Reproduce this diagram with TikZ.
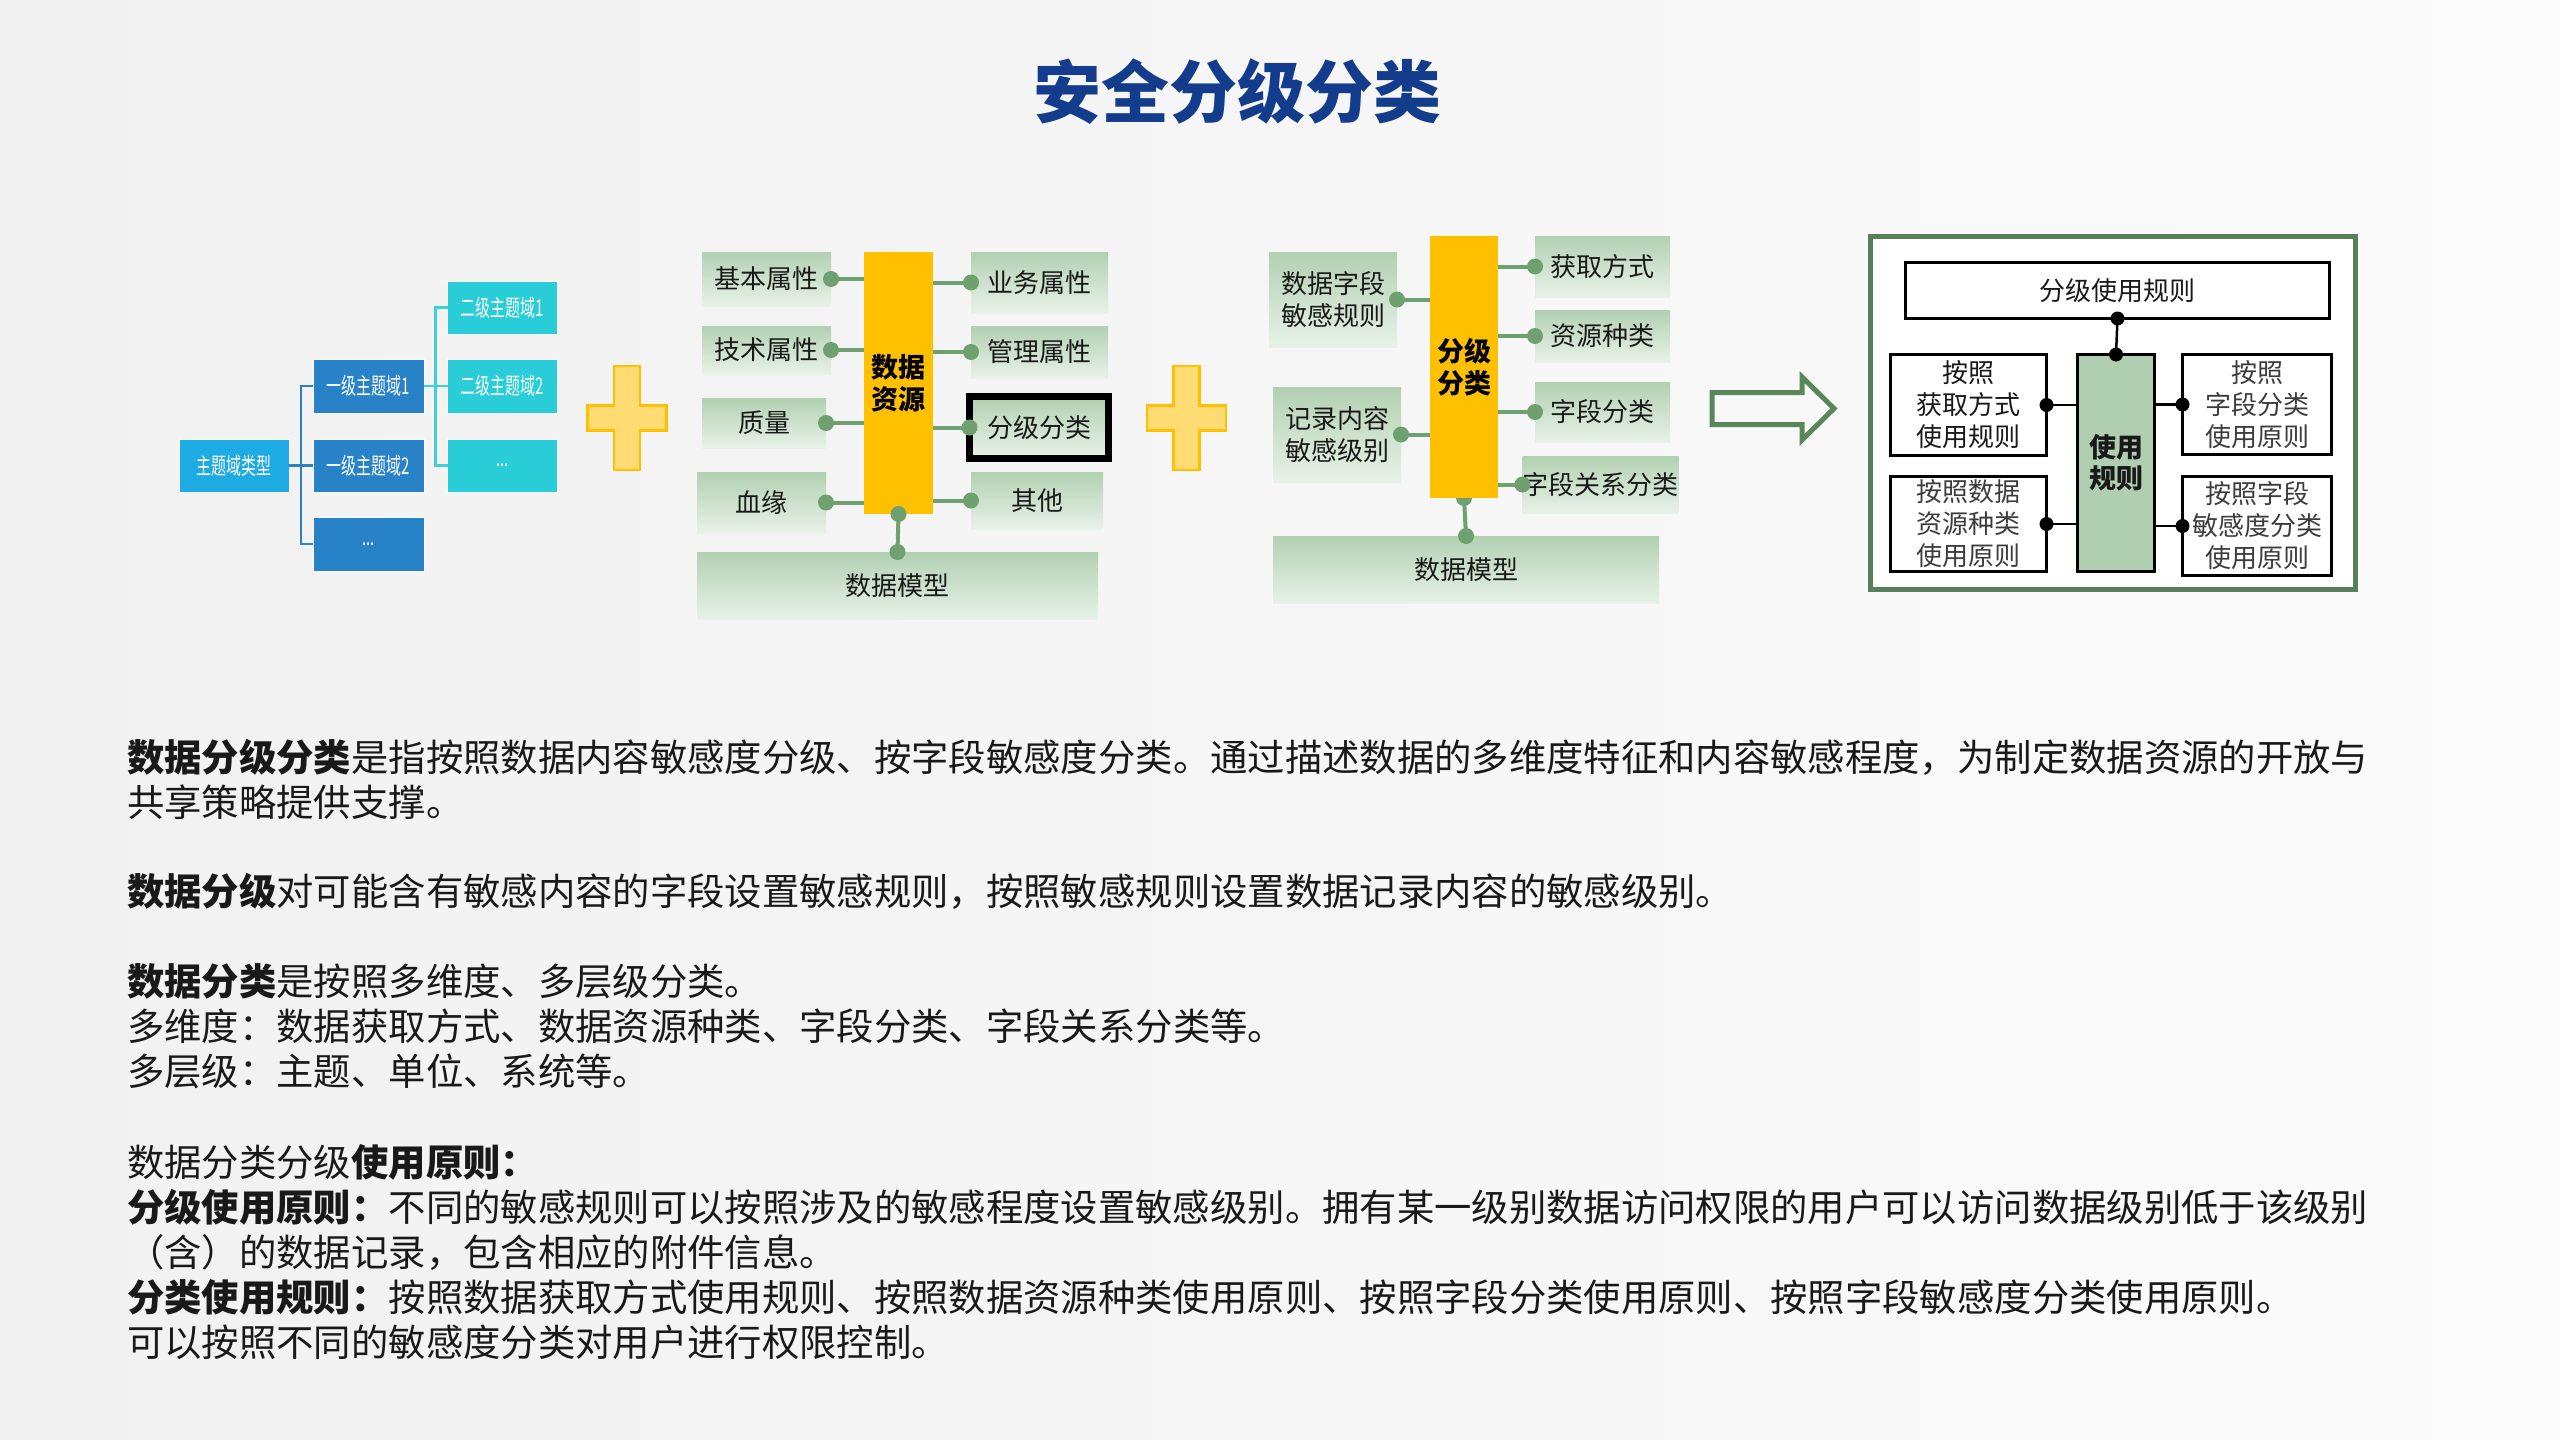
\documentclass[tikz,border=0pt]{standalone}
\usepackage{fontspec}
\usepackage{graphicx}
\setmainfont{Noto Sans CJK SC}
\definecolor{bgl}{RGB}{241,241,241}
\definecolor{bgr}{RGB}{251,251,251}
\definecolor{titleblue}{RGB}{19,61,140}
\definecolor{czero}{RGB}{30,170,226}
\definecolor{cone}{RGB}{40,130,200}
\definecolor{ctwo}{RGB}{40,205,215}
\definecolor{lineone}{RGB}{47,128,195}
\definecolor{linetwo}{RGB}{64,208,216}
\definecolor{plusfill}{RGB}{255,220,115}
\definecolor{plusedge}{RGB}{255,192,0}
\definecolor{ybar}{RGB}{255,192,0}
\definecolor{gtop}{RGB}{178,208,178}
\definecolor{gbot}{RGB}{232,242,232}
\definecolor{gcon}{RGB}{111,160,111}
\definecolor{arrowc}{RGB}{90,135,90}
\definecolor{boxg}{RGB}{88,128,88}
\definecolor{ucfill}{RGB}{176,206,176}
\definecolor{txt}{RGB}{25,25,25}
\definecolor{gtxt}{RGB}{60,60,60}
\newcommand\cnd[1]{\scalebox{0.65}[1]{#1}}
\newcommand\gdotat[1]{\fill[gcon] (#1) circle[radius=8pt];}
\newcommand\bdotat[1]{\fill[black] (#1) circle[radius=7pt];}
\begin{document}
\begin{tikzpicture}[x=1pt,y=-1pt,
  tbox/.style={draw=white, line width=0.8pt, text=white, inner sep=0pt, outer sep=0pt, font=\fontsize{23}{28}\selectfont},
  gbox/.style={top color=gtop, bottom color=gbot, draw=none, inner sep=0pt, outer sep=0pt, text=txt, font=\fontsize{26}{32}\selectfont, align=center},
  ybox/.style={fill=ybar, inner sep=0pt, outer sep=0pt, text=black, font=\bfseries\fontsize{27}{32}\selectfont, align=center},
  gline/.style={draw=gcon, line width=4pt},
  tlone/.style={draw=lineone, line width=2.7pt},
  tltwo/.style={draw=linetwo, line width=2.7pt},
  wbox/.style={draw=black, line width=2.5pt, fill=white, inner sep=0pt, outer sep=0pt, text=txt, font=\fontsize{26}{32}\selectfont, align=center},
  bline/.style={draw=black, line width=2.5pt},
  plusst/.style={fill=plusfill, draw=plusedge, line width=2.5pt},
  bodytext/.style={anchor=west, inner sep=0pt, text=txt, font=\fontsize{37.35}{44}\selectfont}
]
% background
\shade[left color=bgl, right color=bgr] (0,0) rectangle (2560,1440);
\useasboundingbox (0,0) rectangle (2560,1440);

% title
\node[font=\bfseries\fontsize{68}{80}\selectfont, text=titleblue] (title) at (1237,92) {安全分级分类};

% ---------- left tree ----------
\node[tbox, fill=czero, minimum width=110pt, minimum height=53pt] (t0) at (234,465.5) {\cnd{主题域类型}};
\node[tbox, fill=cone, minimum width=111pt, minimum height=54pt] (a1) at (368.5,386) {\cnd{一级主题域1}};
\node[tbox, fill=cone, minimum width=111pt, minimum height=53pt] (a2) at (368.5,465.5) {\cnd{一级主题域2}};
\node[tbox, fill=cone, minimum width=111pt, minimum height=54pt] (a3) at (368.5,544) {\cnd{...}};
\node[tbox, fill=ctwo, minimum width=110pt, minimum height=53pt] (b1) at (502.5,307.5) {\cnd{二级主题域1}};
\node[tbox, fill=ctwo, minimum width=110pt, minimum height=54pt] (b2) at (502.5,386) {\cnd{二级主题域2}};
\node[tbox, fill=ctwo, minimum width=110pt, minimum height=53pt] (b3) at (502.5,465.5) {\cnd{...}};
\coordinate (j1) at (301,465.5);
\coordinate (j2) at (435.5,386);
\draw[tlone] (t0.east) -- (a2.west);
\draw[tlone] (a1.west) -| (j1) |- (a3.west);
\draw[tltwo] (a1.east) -- (b2.west);
\draw[tltwo] (b1.west) -| (j2) |- (b3.west);

% plus 1
\draw[plusst, shift={(627,418)}] (-13,-52) -- (13,-52) -- (13,-12.5) -- (39.5,-12.5) -- (39.5,12.5) -- (13,12.5) -- (13,52) -- (-13,52) -- (-13,12.5) -- (-39.5,12.5) -- (-39.5,-12.5) -- (-13,-12.5) -- cycle;

% ---------- middle section ----------
\node[gbox, minimum width=129pt, minimum height=54pt] (m1) at (766.5,279) {基本属性};
\node[gbox, minimum width=129pt, minimum height=48pt] (m2) at (766.5,350) {技术属性};
\node[gbox, minimum width=124pt, minimum height=50pt] (m3) at (764,423) {质量};
\node[gbox, minimum width=129pt, minimum height=61pt] (m4) at (761.5,502.5) {血缘};
\node[ybox, minimum width=69pt, minimum height=262pt] (ds) at (898.5,383) {数据\\资源};
\node[gbox, minimum width=137pt, minimum height=61pt] (r1) at (1039.5,282.5) {业务属性};
\node[gbox, minimum width=137pt, minimum height=52pt] (r2) at (1039.5,352) {管理属性};
\node[gbox, draw=black, line width=7pt, minimum width=139pt, minimum height=62pt] (r3) at (1039,427.5) {分级分类};
\node[gbox, minimum width=132pt, minimum height=57pt] (r4) at (1037,500.5) {其他};
\node[gbox, minimum width=401pt, minimum height=67pt] (dm) at (897.5,585.5) {数据模型};
\foreach \n in {m1,m2,m3,m4}{
  \draw[gline] (\n.east) -- (\n.east -| ds.west);
  \gdotat{\n.east}
}
\foreach \n in {r1,r2,r3,r4}{
  \draw[gline] (\n.west -| ds.east) -- (\n.west);
  \gdotat{\n.west}
}
\draw[gline] (ds.south) -- (dm.north);
\gdotat{ds.south}
\gdotat{dm.north}

% plus 2
\draw[plusst, shift={(1186.5,418)}] (-13,-52) -- (13,-52) -- (13,-12.5) -- (39.5,-12.5) -- (39.5,12.5) -- (13,12.5) -- (13,52) -- (-13,52) -- (-13,12.5) -- (-39.5,12.5) -- (-39.5,-12.5) -- (-13,-12.5) -- cycle;

% ---------- third section ----------
\node[gbox, minimum width=128pt, minimum height=95pt] (s1) at (1333,299.5) {数据字段\\敏感规则};
\node[gbox, minimum width=128pt, minimum height=95pt] (s2) at (1337,434.5) {记录内容\\敏感级别};
\node[gbox, minimum width=386pt, minimum height=67pt] (dmb) at (1466,569.5) {数据模型};
\coordinate (fjs) at (1464,498);
\draw[gline] (fjs) -- (dmb.north);
\gdotat{fjs}
\gdotat{dmb.north}
\node[ybox, minimum width=68pt, minimum height=262pt] (fj) at (1464,367) {分级\\分类};
\node[gbox, minimum width=135pt, minimum height=61pt] (q1) at (1602.5,266.5) {获取方式};
\node[gbox, minimum width=135pt, minimum height=52pt] (q2) at (1602.5,336) {资源种类};
\node[gbox, minimum width=135pt, minimum height=60pt] (q3) at (1602.5,412) {字段分类};
\node[gbox, minimum width=131pt, minimum height=57pt] (q4) at (1600.5,484.5) {字段关系分类};
\foreach \n in {s1,s2}{
  \draw[gline] (\n.east) -- (\n.east -| fj.west);
  \gdotat{\n.east}
}
\foreach \n in {q1,q2,q3,q4}{
  \draw[gline] (\n.west -| fj.east) -- (\n.west);
  \gdotat{\n.west}
}

% block arrow
\draw[draw=arrowc, line width=5pt, line join=miter] (1712,392.5) -- (1802,392.5) -- (1802,377) -- (1834,408.5) -- (1802,440) -- (1802,424.5) -- (1712,424.5) -- cycle;

% ---------- right box ----------
\node[draw=boxg, line width=5pt, fill=white, inner sep=0pt, outer sep=0pt, minimum width=485pt, minimum height=353pt] (rb) at (2113,413) {};
\node[wbox, minimum width=424pt, minimum height=56pt] (u0) at (2117.5,290.5) {分级使用规则};
\node[wbox, fill=ucfill, font=\bfseries\fontsize{27}{31}\selectfont, minimum width=77pt, minimum height=217pt] (uc) at (2116,463) {使用\\规则};
\node[wbox, minimum width=156pt, minimum height=101pt] (ul1) at (1968.5,405) {按照\\获取方式\\使用规则};
\node[wbox, text=gtxt, minimum width=156pt, minimum height=95pt] (ul2) at (1968.5,524) {按照数据\\资源种类\\使用原则};
\node[wbox, text=gtxt, minimum width=149pt, minimum height=100pt] (ur1) at (2257,404.5) {按照\\字段分类\\使用原则};
\node[wbox, text=gtxt, minimum width=149pt, minimum height=99pt] (ur2) at (2257,526) {按照字段\\敏感度分类\\使用原则};
\draw[bline] (u0.south) -- (uc.north);
\bdotat{u0.south}
\bdotat{uc.north}
\foreach \n in {ul1,ul2}{
  \draw[bline] (\n.east) -- (\n.east -| uc.west);
  \bdotat{\n.east}
}
\foreach \n in {ur1,ur2}{
  \draw[bline] (\n.west -| uc.east) -- (\n.west);
  \bdotat{\n.west}
}

% ---------- body text ----------
\node[bodytext] (p1) at (127,757) {\textbf{数据分级分类}是指按照数据内容敏感度分级、按字段敏感度分类。通过描述数据的多维度特征和内容敏感程度，为制定数据资源的开放与};
\node[bodytext] (p2) at (127,802) {共享策略提供支撑。};
\node[bodytext] (p3) at (127,891) {\textbf{数据分级}对可能含有敏感内容的字段设置敏感规则，按照敏感规则设置数据记录内容的敏感级别。};
\node[bodytext] (p4) at (127,981) {\textbf{数据分类}是按照多维度、多层级分类。};
\node[bodytext] (p5) at (127,1026) {多维度：数据获取方式、数据资源种类、字段分类、字段关系分类等。};
\node[bodytext] (p6) at (127,1071) {多层级：主题、单位、系统等。};
\node[bodytext] (p7) at (127,1162) {数据分类分级\textbf{使用原则：}};
\node[bodytext] (p8) at (127,1207) {\textbf{分级使用原则：}不同的敏感规则可以按照涉及的敏感程度设置敏感级别。拥有某一级别数据访问权限的用户可以访问数据级别低于该级别};
\node[bodytext] (p9) at (127,1252) {（含）的数据记录，包含相应的附件信息。};
\node[bodytext] (p10) at (127,1297) {\textbf{分类使用规则：}按照数据获取方式使用规则、按照数据资源种类使用原则、按照字段分类使用原则、按照字段敏感度分类使用原则。};
\node[bodytext] (p11) at (127,1342) {可以按照不同的敏感度分类对用户进行权限控制。};
\end{tikzpicture}
\end{document}
